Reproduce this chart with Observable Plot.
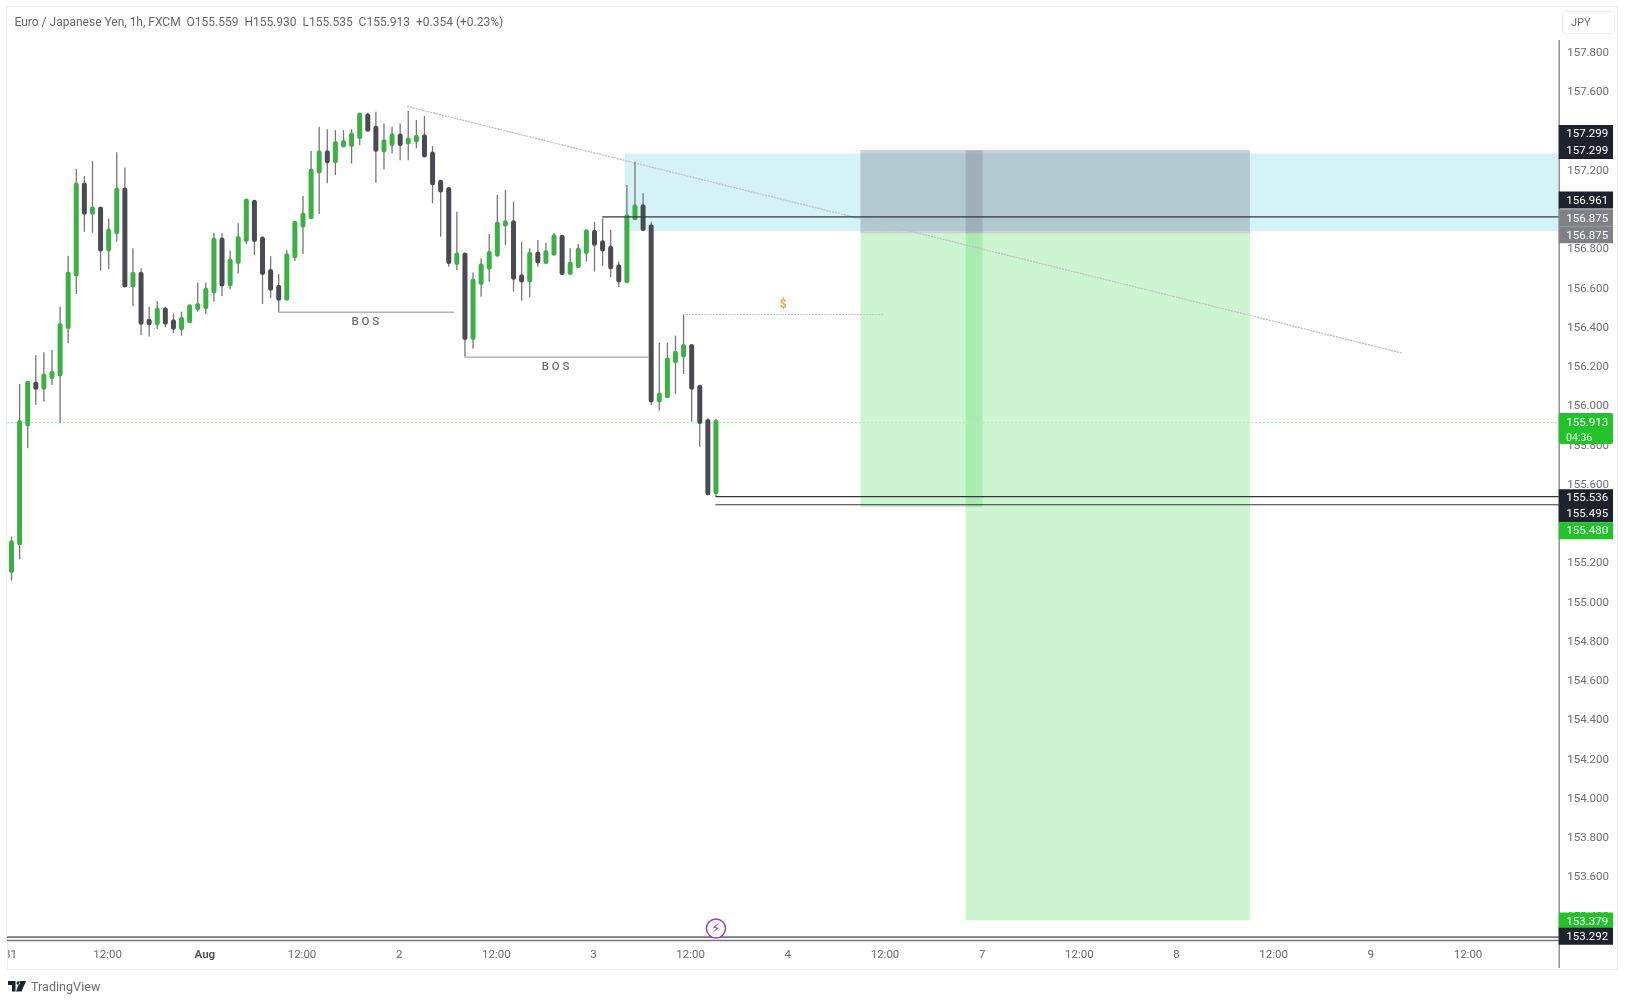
<!DOCTYPE html>
<html>
<head>
<meta charset="utf-8">
<script src="https://cdn.jsdelivr.net/npm/d3@7"></script>
<script src="https://cdn.jsdelivr.net/npm/@observablehq/plot@0.6"></script>
<style>
  html,body{margin:0;padding:0;background:#fff;overflow:hidden}
  #wrap{position:relative;width:1626px;height:1002px;filter:blur(.6px)}
  #wrap svg{position:absolute;left:0;top:0}
  .border{position:absolute;left:6px;top:6px;width:1612px;height:964px;border:1px solid #eeeff1;box-sizing:border-box}
  .mask{position:absolute;left:0;top:942px;width:7px;height:27px;background:#fff;border-right:1px solid #eeeff1;z-index:2}
  .hdr{position:absolute;left:14.5px;top:14.5px;font:12px Roboto,sans-serif;color:#66666c;white-space:pre;z-index:3}
  .jpy{position:absolute;left:1562px;top:11px;width:53px;height:23px;border:1px solid #eceef1;border-radius:3px;box-sizing:border-box;font:11px Roboto,sans-serif;color:#6b6b70;padding-left:8px;line-height:22px;z-index:3}
  .tv{position:absolute;left:8px;top:979px;font:12.6px Roboto,sans-serif;color:#6e6e73;display:flex;align-items:center;gap:5px;z-index:3}
</style>
</head>
<body>
<div id="wrap">
  <div class="border"></div>
  <div class="mask"></div>
  <div class="hdr">Euro / Japanese Yen, 1h, FXCM  O155.559  H155.930  L155.535  C155.913  +0.354 (+0.23%)</div>
  <div class="jpy">JPY</div>
  <div class="tv"><svg style="position:static" width="18" height="11" viewBox="0 0 18 11"><path fill="#1e222d" d="M0 0h7.5v10.5H4V4H0zM8.5 2a1.8 1.8 0 1 0 0-.01zM12 0h6l-4.5 10.5H8z"/></svg><span>TradingView</span></div>
</div>
<script>
const opens = [155.157,155.299,155.904,156.108,156.091,156.145,156.158,156.400,156.668,157.121,156.982,156.999,156.795,156.883,157.096,156.612,156.666,156.427,156.420,156.484,156.425,156.394,156.430,156.496,156.501,156.581,156.841,156.617,156.731,156.844,157.033,156.846,156.680,156.600,156.544,156.761,156.917,156.960,157.192,157.286,157.245,157.325,157.328,157.367,157.473,157.410,157.299,157.333,157.371,157.340,157.350,157.367,157.279,157.135,157.099,156.727,156.765,156.345,156.625,156.702,156.770,156.922,156.929,156.654,156.637,156.770,156.731,156.773,156.855,156.676,156.710,156.782,156.880,156.827,156.799,156.705,156.634,156.955,157.011,156.909,156.026,156.048,156.226,156.255,156.298,156.091,155.916,155.559];
const highs = [155.330,156.108,156.111,156.255,156.269,156.281,156.501,156.761,157.203,157.167,157.243,157.002,156.951,157.288,157.211,156.799,156.697,156.501,156.530,156.501,156.467,156.476,156.505,156.624,156.624,156.878,156.875,156.787,156.926,157.045,157.036,156.858,156.759,156.668,156.790,156.938,157.065,157.294,157.418,157.405,157.401,157.401,157.405,157.486,157.490,157.495,157.435,157.418,157.435,157.500,157.452,157.473,157.320,157.138,157.099,156.985,156.765,156.675,156.748,156.872,157.070,157.096,157.036,156.832,156.799,156.841,156.827,156.875,156.858,156.799,156.821,156.892,156.934,156.951,156.892,156.731,157.121,157.240,157.079,156.934,156.318,156.318,156.354,156.459,156.306,156.094,155.933,155.930];
const lows = [155.106,155.214,155.780,156.001,156.018,156.102,155.911,156.315,156.566,156.883,156.878,156.685,156.692,156.832,156.612,156.505,156.357,156.349,156.388,156.396,156.366,156.354,156.430,156.476,156.464,156.527,156.556,156.590,156.671,156.821,156.765,156.515,156.544,156.476,156.544,156.734,156.770,156.960,156.973,157.130,157.172,157.316,157.231,157.325,157.405,157.133,157.201,157.282,157.248,157.248,157.308,157.274,157.028,156.858,156.705,156.688,156.247,156.289,156.552,156.629,156.756,156.816,156.578,156.532,156.549,156.705,156.731,156.773,156.676,156.676,156.710,156.731,156.680,156.710,156.651,156.600,156.634,156.955,156.900,156.001,155.972,156.048,156.057,156.158,155.916,155.788,155.554,155.535];
const closes = [155.299,155.911,156.111,156.091,156.148,156.162,156.405,156.668,157.121,156.982,156.999,156.795,156.887,157.096,156.612,156.666,156.422,156.420,156.484,156.422,156.396,156.437,156.501,156.507,156.586,156.841,156.617,156.734,156.849,157.040,156.844,156.676,156.595,156.544,156.761,156.926,156.968,157.192,157.286,157.245,157.333,157.338,157.376,157.478,157.405,157.303,157.342,157.372,157.333,157.350,157.364,157.274,157.133,157.096,156.731,156.765,156.345,156.632,156.710,156.773,156.922,156.929,156.651,156.637,156.770,156.734,156.778,156.858,156.676,156.719,156.790,156.883,156.824,156.795,156.705,156.637,156.960,157.011,156.900,156.026,156.052,156.230,156.264,156.298,156.091,155.916,155.554,155.913];

const priceTicks = [157.8,157.6,157.2,156.8,156.6,156.4,156.2,156.0,155.8,155.6,155.2,155.0,154.8,154.6,154.4,154.2,154.0,153.8,153.6,153.4];
const timeTicks = [0,12,36,48,60,72,84,96,108,120,132,144,156,168,180];
const timeLabels = ["31","12:00","12:00","2","12:00","3","12:00","4","12:00","7","12:00","8","12:00","9","12:00"];
const monthTick = [24], monthLabel = "Aug";

const blueZone = {x1:75.8, x2:191.14, y1:156.887, y2:157.282};
const stopZones = [{x1:104.9,x2:120,y1:156.875,y2:157.299},{x1:117.9,x2:153,y1:156.875,y2:157.299}];
const targetZones = [{x1:104.9,x2:120,y1:155.48,y2:156.875},{x1:117.9,x2:153,y1:153.375,y2:156.875}];

const levelLines = [{x1:73,x2:191.14,y:156.961},{x1:87,x2:191.14,y:155.536},{x1:87,x2:191.14,y:155.495}];
const bosLines = [{x1:33,x2:54.7,y:156.476},{x1:56,x2:78.7,y:156.247}];
const bosLabels = [{x:43.7,y:156.43},{x:67.2,y:156.199}];
const liqLine = [{x1:83,x2:107.8,y:156.464}];
const trendLine = [{x1:48.84,y1:157.524,x2:171.8,y2:156.267}];

const DARK="#1e222d", GREY="#7f8088", GREEN="#22c32a";
const tags = [
  {text:"157.299",price:157.299,fill:DARK,dy:-17},
  {text:"157.299",price:157.299,fill:DARK,dy:0},
  {text:"156.875",price:156.875,fill:GREY,dy:-16},
  {text:"156.875",price:156.875,fill:GREY,dy:1},
  {text:"156.961",price:156.961,fill:DARK,dy:-17},
  {text:"155.536",price:155.536,fill:DARK,dy:1},
  {text:"155.495",price:155.495,fill:DARK,dy:9},
  {text:"155.480",price:155.480,fill:GREEN,dy:23},
  {text:"153.379",price:153.379,fill:GREEN,dy:1},
  {text:"153.292",price:153.292,fill:DARK,dy:-1}
];

const idx = d3.range(opens.length);
const isUp = i => closes[i] >= opens[i];
const AXIS = 191.14, TAGEND = 197.85, TAGTEXT = 194.6;

const tagMarks = tags.flatMap(t => [
  Plot.ruleY([t.price],{x1:AXIS,x2:TAGEND,stroke:t.fill,strokeWidth:17,dy:t.dy}),
  Plot.text([t.text],{x:TAGTEXT,y:()=>t.price,text:d=>d,fill:"#fff",dy:t.dy})
]);

const chart = Plot.plot({
  width:1626, height:1002,
  marginLeft:7, marginRight:67.3, marginTop:40, marginBottom:62,
  x:{domain:[-0.494,AXIS]},
  y:{domain:[153.275,157.86]},
  style:{background:"transparent",fontFamily:"Roboto, sans-serif",fontSize:"11.5px"},
  marks:[
    Plot.axisY(priceTicks,{anchor:"right",tickSize:0,tickPadding:8,label:null,tickFormat:d3.format(".3f"),fill:"#6b6b70"}),
    Plot.axisX(timeTicks,{anchor:"bottom",tickSize:0,tickPadding:9,dx:-1,label:null,tickFormat:(d,i)=>timeLabels[i],fill:"#6b6b70"}),
    Plot.axisX(monthTick,{anchor:"bottom",tickSize:0,tickPadding:9,dx:-1,label:null,tickFormat:()=>monthLabel,fontWeight:"bold",fill:"#555"}),
    Plot.rect([blueZone],{x1:"x1",x2:"x2",y1:"y1",y2:"y2",fill:"#d5f2f7"}),
    Plot.rect(targetZones,{x1:"x1",x2:"x2",y1:"y1",y2:"y2",fill:"rgb(60,215,70)",fillOpacity:.25}),
    Plot.rect(stopZones,{x1:"x1",x2:"x2",y1:"y1",y2:"y2",fill:"rgb(131,145,155)",fillOpacity:.42}),
    Plot.ruleY([155.913],{x1:-0.494,x2:AXIS,stroke:"#b9e9bc",strokeWidth:1.2,strokeDasharray:"2 2"}),
    Plot.link(trendLine,{x1:"x1",y1:"y1",x2:"x2",y2:"y2",stroke:"#bcbcc0",strokeWidth:1.2,strokeDasharray:"2 1"}),
    Plot.ruleY(bosLines,{x1:"x1",x2:"x2",y:"y",stroke:"#8c8c90",strokeWidth:1}),
    Plot.ruleY(liqLine,{x1:"x1",x2:"x2",y:"y",stroke:"#c4c4c7",strokeWidth:1,strokeDasharray:"2 1"}),
    Plot.ruleX(idx,{x:i=>i,y1:i=>lows[i],y2:i=>highs[i],stroke:"#76767c",strokeWidth:1.3}),
    Plot.ruleX(idx,{x:i=>i,y1:i=>opens[i],y2:i=>closes[i],stroke:i=>isUp(i)?"#3bb143":"#4a4a52",strokeWidth:5,strokeLinecap:"round"}),
    Plot.ruleY(levelLines,{x1:"x1",x2:"x2",y:"y",stroke:"#33373d",strokeWidth:1.2}),
    Plot.text(bosLabels,{x:"x",y:"y",text:()=>"B O S",fill:"#6f6f75",fontSize:11.5,fontWeight:"500"}),
    Plot.text([0],{x:()=>95.3,y:()=>156.515,text:()=>"$",fill:"#efa83a",fontSize:12,fontWeight:"bold"}),
    Plot.ruleY([153.292],{x1:-0.494,x2:AXIS,stroke:"#77777c",strokeWidth:1.6}),
    Plot.ruleY([153.275],{x1:-0.494,x2:AXIS,stroke:"#77777c",strokeWidth:1.6}),
    Plot.dot([0],{x:()=>87,y:()=>153.336,r:9.5,stroke:"#a23bc7",strokeWidth:1.5,fill:"#fff"}),
    Plot.text([0],{x:()=>87,y:()=>153.336,text:()=>"⚡",fill:"#a23bc7",fontSize:14,fontFamily:"DejaVu Sans"}),
    Plot.ruleX([AXIS],{y1:153.132,y2:157.86,stroke:"#78787d",strokeWidth:1.2}),
    ...tagMarks,
    Plot.rect([0],{x1:()=>AXIS,x2:()=>TAGEND,y1:()=>155.802,y2:()=>155.96,fill:GREEN,rx:2}),
    Plot.text(["155.913"],{x:TAGTEXT,y:()=>155.913,text:d=>d,fill:"#fff"}),
    Plot.text(["04:36"],{x:()=>193.6,y:()=>155.913,text:d=>d,fill:"#e6ffe6",dy:15,fontSize:10.5})
  ]
});
document.getElementById("wrap").appendChild(chart);
</script>
</body>
</html>
